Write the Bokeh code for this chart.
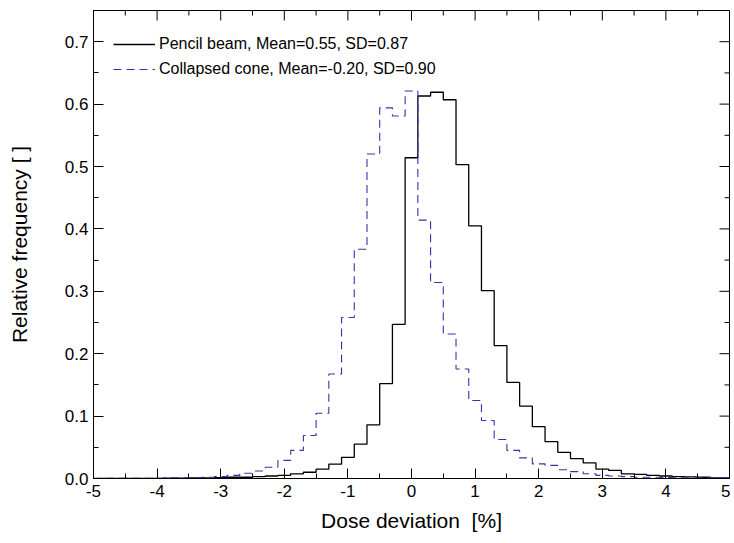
from bokeh.plotting import figure
from bokeh.models import (LinearAxis, FixedTicker, PrintfTickFormatter, Legend, LegendItem, Range1d)
from bokeh.embed import file_html
from bokeh.resources import INLINE

# Bin centres (bin width 0.2 %)
centers = [-5.0, -4.8, -4.6, -4.4, -4.2, -4.0, -3.8, -3.6, -3.4, -3.2,
           -3.0, -2.8, -2.6, -2.4, -2.2, -2.0, -1.8, -1.6, -1.4, -1.2,
           -1.0, -0.8, -0.6, -0.4, -0.2, 0.0, 0.2, 0.4, 0.6, 0.8,
           1.0, 1.2, 1.4, 1.6, 1.8, 2.0, 2.2, 2.4, 2.6, 2.8,
           3.0, 3.2, 3.4, 3.6, 3.8, 4.0, 4.2, 4.4, 4.6, 4.8, 5.0]

pencil_beam = [0.0, 0.0, 0.0, 0.0, 0.0, 0.0, 0.0005, 0.0005, 0.001, 0.001,
               0.0015, 0.002, 0.002, 0.003, 0.004, 0.005, 0.0075, 0.010, 0.015, 0.023,
               0.034, 0.055, 0.086, 0.152, 0.247, 0.514, 0.613, 0.619, 0.607, 0.503,
               0.405, 0.301, 0.213, 0.154, 0.116, 0.083, 0.059, 0.042, 0.032, 0.025,
               0.015, 0.013, 0.0075, 0.0065, 0.005, 0.004, 0.003, 0.0025, 0.002, 0.001, 0.001]

collapsed_cone = [0.0, 0.0005, 0.0005, 0.0005, 0.0005, 0.0005, 0.001, 0.001, 0.0015, 0.002,
                  0.003, 0.005, 0.0085, 0.012, 0.018, 0.029, 0.045, 0.069, 0.1045, 0.1675,
                  0.258, 0.3675, 0.520, 0.594, 0.581, 0.621, 0.414, 0.314, 0.2315, 0.1755,
                  0.125, 0.093, 0.0625, 0.045, 0.033, 0.0235, 0.021, 0.014, 0.011, 0.0075,
                  0.005, 0.004, 0.003, 0.002, 0.002, 0.0015, 0.001, 0.001, 0.001, 0.001, 0.001]

x_ticks = [-5, -4, -3, -2, -1, 0, 1, 2, 3, 4, 5]
y_ticks = [0.0, 0.1, 0.2, 0.3, 0.4, 0.5, 0.6, 0.7]
x_minor = [-4.5, -3.5, -2.5, -1.5, -0.5, 0.5, 1.5, 2.5, 3.5, 4.5]
y_minor = [0.05, 0.15, 0.25, 0.35, 0.45, 0.55, 0.65, 0.75]

label_pb = "Pencil beam, Mean=0.55, SD=0.87"
label_cc = "Collapsed cone, Mean=-0.20, SD=0.90"
x_label = "Dose deviation \u00a0[%]"
y_label = "Relative frequency [ ]"

FONT = "Liberation Sans"
X0, X1, Y0, Y1 = -5, 5, 0, 0.75
FW, FH = 636, 468
MAJOR, MINOR = 10, 5

p = figure(frame_width=FW, frame_height=FH, min_border_left=93, min_border_right=1,
           min_border_top=10, min_border_bottom=60,
           x_range=Range1d(X0, X1), y_range=Range1d(Y0, Y1),
           output_backend="svg", toolbar_location=None, x_axis_type=None, y_axis_type=None)
p.background_fill_color = "white"
p.border_fill_color = "white"
p.outline_line_color = "black"
p.outline_line_width = 1
p.xgrid.visible = False
p.ygrid.visible = False

r_pb = p.step(centers, pencil_beam, mode="center", line_color="black", line_width=1.3)
r_cc = p.step(centers, collapsed_cone, mode="center", line_color="#3434a8", line_width=1.1,
              line_dash="8 5")

xt = FixedTicker(ticks=x_ticks, minor_ticks=x_minor)
yt = FixedTicker(ticks=y_ticks, minor_ticks=y_minor)


def style_axis(ax):
    ax.major_tick_in = MAJOR
    ax.major_tick_out = 0
    ax.minor_tick_in = MINOR
    ax.minor_tick_out = 0
    ax.major_tick_line_color = "black"
    ax.minor_tick_line_color = "black"
    ax.axis_line_color = "black"
    ax.major_label_text_font = FONT
    ax.major_label_text_color = "black"
    ax.major_label_text_font_size = "17px"
    ax.axis_label_text_font = FONT
    ax.axis_label_text_font_style = "normal"
    ax.axis_label_text_color = "black"
    ax.axis_label_text_font_size = "21px"


xb = LinearAxis(ticker=xt, formatter=PrintfTickFormatter(format="%d"), axis_label=x_label)
style_axis(xb)
xb.major_label_standoff = 6
xb.axis_label_standoff = 9
p.add_layout(xb, "below")

yl = LinearAxis(ticker=yt, formatter=PrintfTickFormatter(format="%.1f"), axis_label=y_label)
style_axis(yl)
yl.major_label_standoff = 5
yl.axis_label_standoff = 31
p.add_layout(yl, "left")

# mirrored inward ticks on the top and right frame edges
ux = (X1 - X0) / FW   # data units per pixel
uy = (Y1 - Y0) / FH
p.segment(x0=x_ticks, y0=[Y1] * len(x_ticks), x1=x_ticks, y1=[Y1 - MAJOR * uy] * len(x_ticks),
          line_color="black", line_width=1)
p.segment(x0=x_minor, y0=[Y1] * len(x_minor), x1=x_minor, y1=[Y1 - MINOR * uy] * len(x_minor),
          line_color="black", line_width=1)
p.segment(x0=[X1] * len(y_ticks), y0=y_ticks, x1=[X1 - MAJOR * ux] * len(y_ticks), y1=y_ticks,
          line_color="black", line_width=1)
p.segment(x0=[X1] * len(y_minor), y0=y_minor, x1=[X1 - MINOR * ux] * len(y_minor), y1=y_minor,
          line_color="black", line_width=1)

legend = Legend(items=[LegendItem(label=label_pb, renderers=[r_pb]),
                       LegendItem(label=label_cc, renderers=[r_cc])],
                location=(20, 399))
legend.border_line_alpha = 0
legend.background_fill_alpha = 0
legend.padding = 0
legend.margin = 0
legend.spacing = 5
legend.glyph_width = 42
legend.glyph_height = 20
legend.label_height = 20
legend.label_standoff = 4
legend.label_text_font = FONT
legend.label_text_font_size = "16px"
legend.label_text_color = "black"
p.add_layout(legend, "center")

open("out.html", "w").write(file_html(p, INLINE))
